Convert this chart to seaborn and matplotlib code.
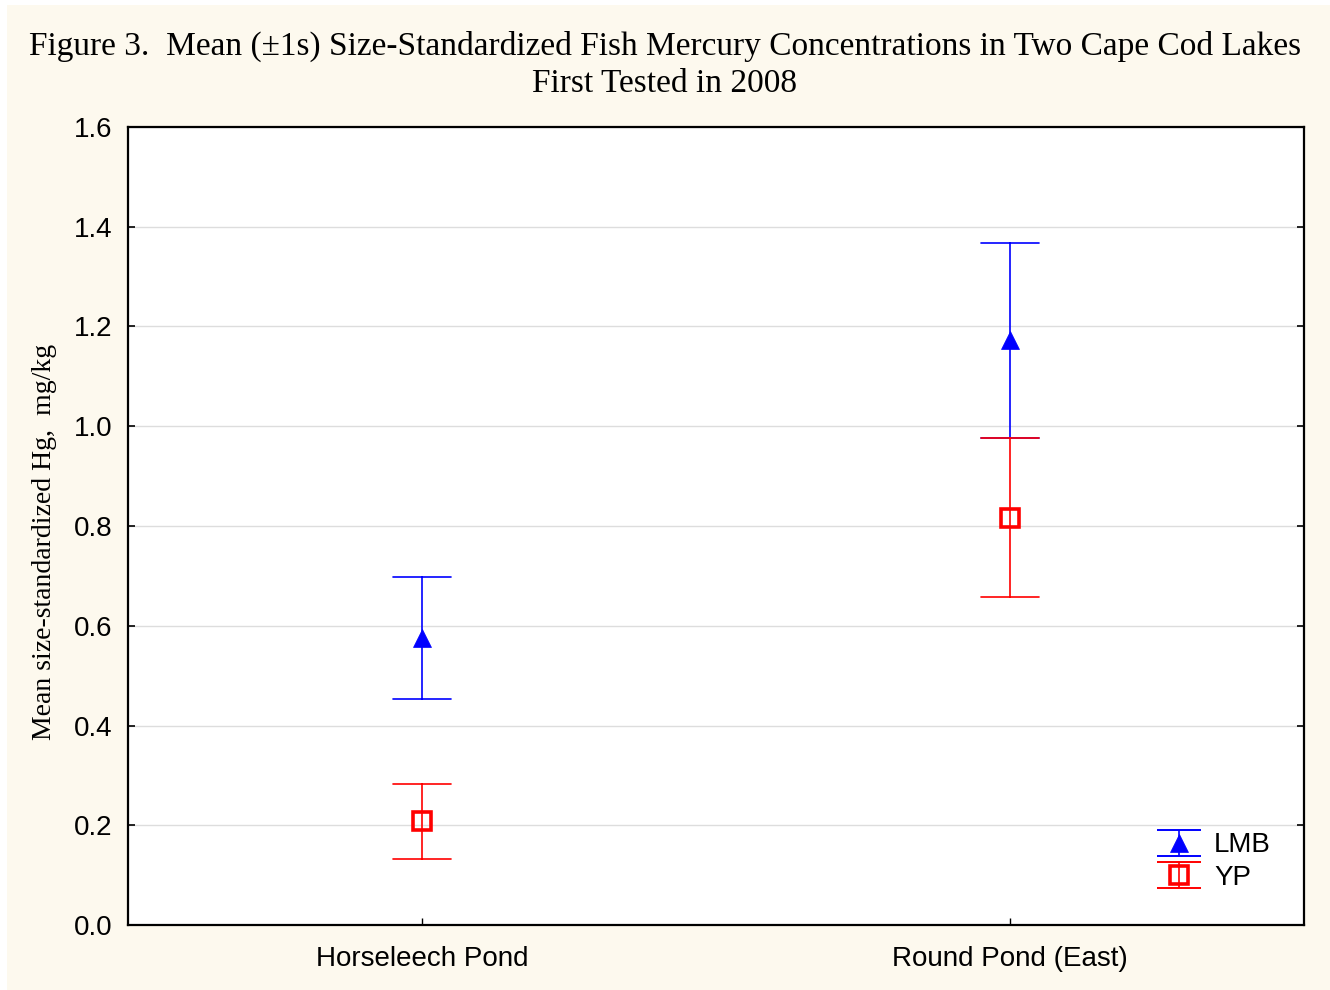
import numpy as np
import pandas as pd
import matplotlib
matplotlib.use("Agg")
import matplotlib.pyplot as plt
import seaborn as sns
from matplotlib.container import ErrorbarContainer
from matplotlib.legend_handler import HandlerErrorbar
from matplotlib.patches import Rectangle

# ---- data ----
ponds = ["Horseleech Pond", "Round Pond (East)"]
species = ["LMB", "YP"]
lmb_mean = [0.575, 1.172]
lmb_sd = [0.122, 0.196]
yp_mean = [0.208, 0.817]
yp_sd = [0.075, 0.159]

rows = []
for sp, means, sds in [("LMB", lmb_mean, lmb_sd), ("YP", yp_mean, yp_sd)]:
    for p, m, s in zip(ponds, means, sds):
        for v in (m - s, m, m + s):
            rows.append({"pond": p, "species": sp, "hg": v})
df = pd.DataFrame(rows)

colors = {"LMB": "#0000FF", "YP": "#FF0000"}
cream = "#FDF9EE"

sns.set_style("ticks")
plt.rcParams["font.family"] = ["Liberation Sans", "DejaVu Sans"]
plt.rcParams.update({"text.color": "black", "axes.labelcolor": "black",
                     "xtick.color": "black", "ytick.color": "black"})

fig = plt.figure(figsize=(13.3, 9.9), dpi=100, facecolor="white")
fig.patches.append(Rectangle((7 / 1330, 0), 1, 1 - 5 / 990, transform=fig.transFigure,
                             facecolor=cream, edgecolor="none", zorder=-10))
ax = fig.add_axes([128 / 1330, 65 / 990, 1176 / 1330, 798 / 990])
ax.set_facecolor("white")

sns.pointplot(data=df, x="pond", y="hg", hue="species", hue_order=species,
              order=ponds, palette=colors, estimator=np.median,
              errorbar=lambda v: (v.min(), v.max()), dodge=False,
              linestyle="none", markers=["^", "s"], capsize=0.1,
              err_kws={"linewidth": 1.2}, legend=False, ax=ax)

for ln in ax.lines:
    mk = ln.get_marker()
    if mk == "^":
        ln.set_markersize(13)
        ln.set_markerfacecolor(colors["LMB"])
        ln.set_markeredgecolor(colors["LMB"])
        ln.set_markeredgewidth(0.5)
        ln.set_zorder(5)
    elif mk == "s":
        ln.set_markersize(13)
        ln.set_markerfacecolor("none")
        ln.set_markeredgecolor(colors["YP"])
        ln.set_markeredgewidth(2.6)
        ln.set_zorder(5)

ax.set_xlim(-0.5, 1.5)
ax.set_ylim(0, 1.6)
ax.set_yticks(np.arange(0, 1.61, 0.2))
ax.set_yticklabels([f"{v:.1f}" for v in np.arange(0, 1.61, 0.2)])
ax.set_xlabel("")
ax.set_ylabel("Mean size-standardized Hg,  mg/kg", family="Liberation Serif",
              fontsize=20, labelpad=12)
ax.yaxis.label.set_y(0.48)
ax.yaxis.grid(True, color="#DDDDDD", linewidth=1.0)
ax.set_axisbelow(True)
for s in ax.spines.values():
    s.set_visible(True)
    s.set_color("black")
    s.set_linewidth(1.6)
ax.tick_params(axis="y", direction="in", left=True, right=True, length=5,
               width=1.2, labelsize=20, pad=11, colors="black")
ax.tick_params(axis="x", direction="in", bottom=True, top=False, length=5,
               width=1.0, labelsize=20, pad=15, colors="black")

# legend handles (errorbar style)
handles = []
for sp, mk in [("LMB", "^"), ("YP", "s")]:
    eb = ax.errorbar([np.nan], [np.nan], yerr=[0.1], fmt=mk, color=colors[sp],
                     ms=13, mfc=colors[sp] if sp == "LMB" else "none",
                     mew=0.5 if sp == "LMB" else 2.6, capsize=16,
                     elinewidth=1.2, capthick=1.2, label=sp)
    for cl in eb[1]:
        cl.set_markeredgewidth(1.4)
    handles.append(eb)
leg = ax.legend(handles=handles, labels=species, loc="upper left",
                bbox_to_anchor=(0.875, 0.116), frameon=False, fontsize=20,
                handlelength=1.6, handletextpad=0.45, labelspacing=0.23,
                borderaxespad=0, borderpad=0,
                handler_map={ErrorbarContainer: HandlerErrorbar(yerr_size=0.47)})

fig.text(0.5, 1 - 31 / 990,
         "Figure 3.  Mean (\u00b11s) Size-Standardized Fish Mercury Concentrations in Two Cape Cod Lakes\nFirst Tested in 2008",
         ha="center", va="top", family="Liberation Serif", fontsize=24,
         linespacing=1.25)

fig.savefig("out.png", dpi=100, facecolor=fig.get_facecolor())
